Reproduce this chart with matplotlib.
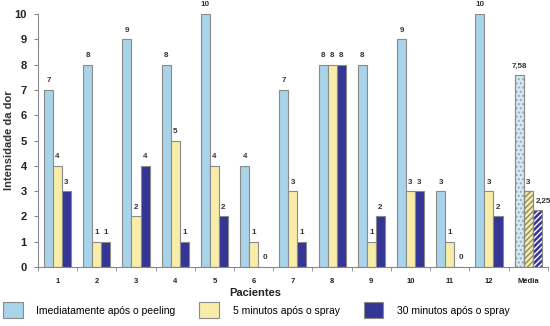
import numpy as np
import matplotlib.pyplot as plt
from matplotlib.patches import Patch

plt.rcParams['font.family'] = ['Liberation Sans', 'DejaVu Sans']

# dados
categorias = ['1', '2', '3', '4', '5', '6', '7', '8', '9', '10', '11', '12', 'Média']
imediato = [7, 8, 9, 8, 10, 4, 7, 8, 8, 9, 3, 10, 7.58]
min5 = [4, 1, 2, 5, 4, 1, 3, 8, 1, 3, 1, 3, 3]
min30 = [3, 1, 4, 1, 2, 0, 1, 8, 2, 3, 0, 2, 2.25]
series_nomes = ['Imediatamente após o peeling', '5 minutos após o spray', '30 minutos após o spray']
cores = ['#A9D3E8', '#F8EDA8', '#343594']

fig = plt.figure(figsize=(5.5, 3.26), dpi=100)
ax = fig.add_axes([0.069, 0.181, 0.927, 0.776])

x = np.arange(len(categorias))
w = 0.23
n = len(categorias)

def fmt(v):
    if float(v).is_integer():
        return str(int(v))
    return ('%.2f' % v).replace('.', ',')

for k, (vals, cor) in enumerate(zip([imediato, min5, min30], cores)):
    pos = x + (k - 1) * w
    for i in range(n):
        v = vals[i]
        hatch = None
        fc = cor
        ec = '#8a8a8a'
        if i == n - 1:
            # barras da media com hachura
            if k == 0:
                fc, hatch, ec = '#D6E9F3', '....', '#9aa9b3'
            elif k == 1:
                fc, hatch, ec = '#F8EDA8', '//////', '#8a8a70'
            else:
                fc, hatch, ec = '#343594', '//////', 'white'
        ax.bar(pos[i], v, width=w, color=fc, edgecolor=ec, linewidth=0.8, hatch=hatch, zorder=2)
        if i == n - 1:
            ax.bar(pos[i], v, width=w, fill=False, edgecolor='#8a8a8a', linewidth=0.8, zorder=3)
        dx = 0.0
        if v == 0:
            dx = 0.05
        if i == n - 1 and k == 2:
            dx = 0.15
        ax.text(pos[i] + dx, v + 0.22, fmt(v), ha='center', va='bottom',
                fontsize=5.8, fontweight='bold', color='#333333', clip_on=False)

ax.set_xlim(-0.5, n - 0.5)
ax.set_ylim(0, 10)
ax.set_yticks(range(0, 11))
ax.set_yticklabels([str(i) for i in range(0, 11)], fontsize=8, fontweight='bold', color='#222222')
ax.set_xticks(x)
ax.set_xticklabels(categorias, fontsize=5.5, fontweight='bold', color='#222222')
ax.set_xticks(np.arange(-0.5, n, 1), minor=True)
ax.tick_params(axis='x', which='major', length=0, pad=8)
ax.tick_params(axis='x', which='minor', length=3, color='#888888')
ax.tick_params(axis='y', length=3, color='#888888', pad=5)
for s in ['top', 'right']:
    ax.spines[s].set_visible(False)
for s in ['left', 'bottom']:
    ax.spines[s].set_color('#888888')
    ax.spines[s].set_linewidth(0.8)

ax.set_ylabel('Intensidade da dor', fontsize=8, fontweight='bold', color='#333333')
ax.yaxis.set_label_coords(-0.047, 0.5)
ax.text(0.427, -0.082, 'Pacientes', transform=ax.transAxes, ha='center', va='top',
        fontsize=8, fontweight='bold', color='#222222')

handles = [Patch(facecolor=c, edgecolor='#8a8a8a', linewidth=0.8) for c in cores]
fig.legend(handles, series_nomes, loc='lower left', bbox_to_anchor=(-0.012, -0.005), ncol=3,
           frameon=False, fontsize=7.5, handlelength=1.9, handleheight=2.0,
           columnspacing=2.3, handletextpad=1.3)

fig.savefig('out.png', dpi=100)
